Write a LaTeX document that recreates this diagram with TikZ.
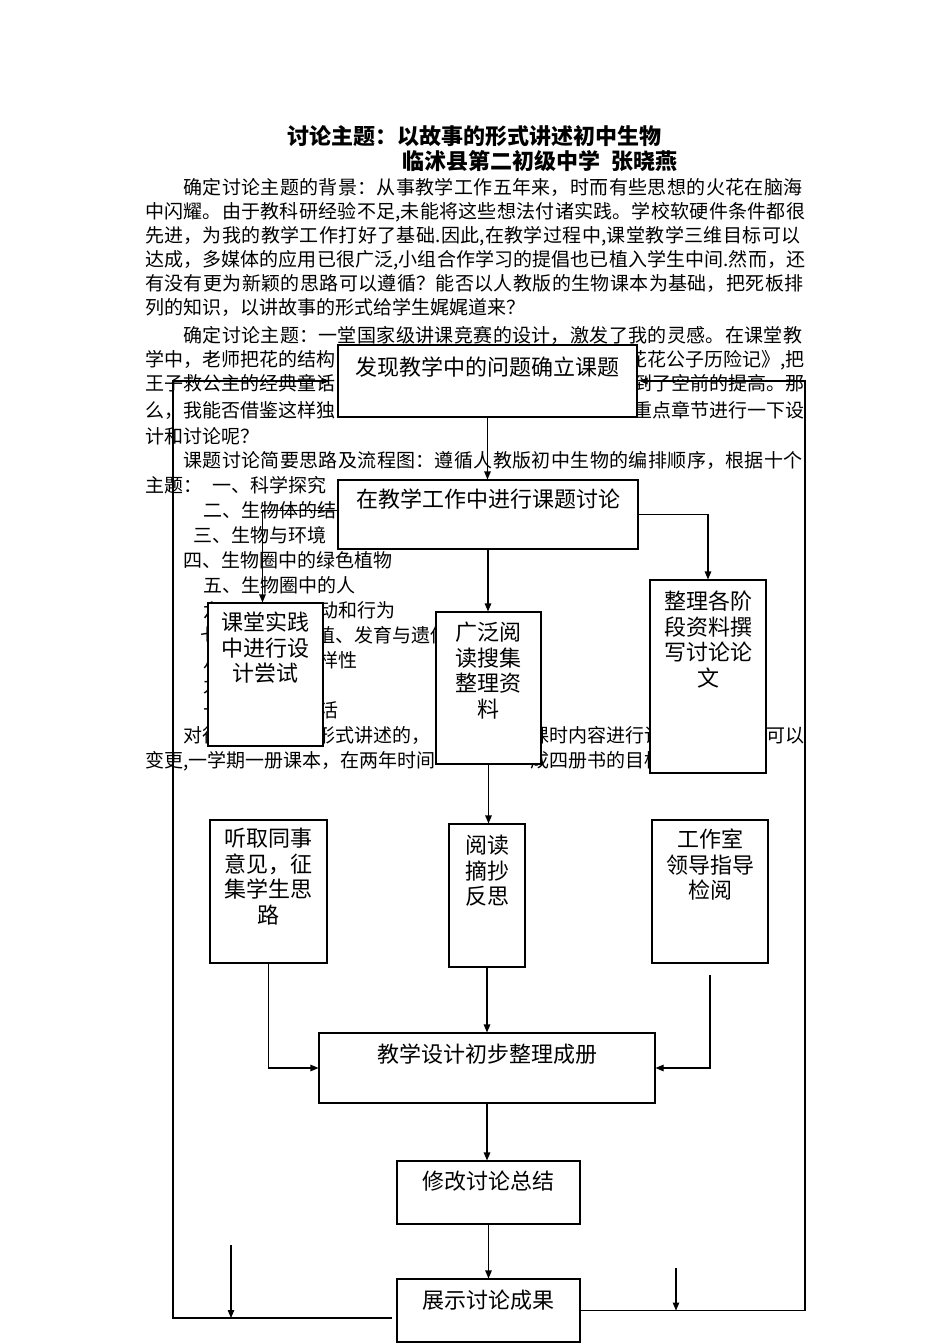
\documentclass[tikz,border=0pt]{standalone}
\usepackage{fontspec}
\setmainfont{Noto Sans CJK SC}
\usetikzlibrary{arrows.meta}
\XeTeXlinebreaklocale "zh"
\XeTeXlinebreakskip=0.4pt plus 2pt minus 1.5pt
\tolerance=9999
\hbadness=10000
\hfuzz=30pt
\newcommand{\mystrut}{\rule{0pt}{20pt}}
\newcommand{\jl}[1]{\leftskip=0pt\rightskip=0pt\parfillskip=0pt\parindent=0pt\relax #1}
\tikzset{
  txt/.style={anchor=west, inner sep=0pt, font=\fontsize{19}{24}\selectfont, text height=16.7pt, text depth=2.3pt},
  txte/.style={txt, anchor=east},
  jline/.style={txt, text width=#1},
  ttl/.style={anchor=west, inner sep=0pt, font=\fontsize{22}{26}\selectfont\bfseries, text height=19.4pt, text depth=2.6pt},
  box/.style={draw, fill=white, line width=1.1pt, inner sep=0pt},
  btxt/.style={anchor=north, inner sep=0pt, align=center, font=\fontsize{22}{25.5}\selectfont},
  ln/.style={line width=1.1pt},
  arr/.style={ln, -{Triangle[length=8pt,width=6.5pt]}},
}
\begin{document}
\begin{tikzpicture}[x=1pt,y=-1pt]
\fill[white] (0,0) rectangle (950,1344);
\useasboundingbox (0,0) rectangle (950,1344);

% ---------- titles ----------
\node[ttl] (t1) at (287,136) {讨论主题：以故事的形式讲述初中生物};
\node[ttl] (t2) at (402,161) {临沭县第二初级中学\hspace{11pt}张晓燕};

% ---------- body text ----------
\node[jline=622] (p1) at (183,187) {\jl{确定讨论主题的背景：从事教学工作五年来，时而有些思想的火花在脑海}};
\node[jline=660] (p2) at (145,211) {\jl{中闪耀。由于教科研经验不足,未能将这些想法付诸实践。学校软硬件条件都很}};
\node[jline=660] (p3) at (145,235) {\jl{先进，为我的教学工作打好了基础.因此,在教学过程中,课堂教学三维目标可以}};
\node[jline=660] (p4) at (145,259) {\jl{达成，多媒体的应用已很广泛,小组合作学习的提倡也已植入学生中间.然而，还}};
\node[jline=660] (p5) at (145,283) {\jl{有没有更为新颖的思路可以遵循？能否以人教版的生物课本为基础，把死板排}};
\node[txt] (p6) at (145,307) {列的知识，以讲故事的形式给学生娓娓道来？};
\node[jline=622] (p7) at (183,335) {\jl{确定讨论主题：一堂国家级讲课竞赛的设计，激发了我的灵感。在课堂教}};
\node[txt] (p8a) at (145,359) {学中，老师把花的结构};
\node[txte] (p8b) at (805,359) {花花公子历险记》,把};
\node[txt] (p9a) at (145,383) {王子救公主的经典童话};
\node[txte] (p9b) at (805,383) {到了空前的提高。那};
\node[txt] (p10a) at (145,410) {么，我能否借鉴这样独};
\node[txte] (p10b) at (805,410) {重点章节进行一下设};
\node[txt] (p11) at (145,436) {计和讨论呢？};
\node[jline=622] (p12) at (183,460) {\jl{课题讨论简要思路及流程图：遵循人教版初中生物的编排顺序，根据十个}};
\node[txt] (p13a) at (145,485) {主题：};
\node[txt] (p13b) at (212,485) {一、科学探究};
\node[txt] (p14) at (203,510) {二、生物体的结};
\node[txt] (p15) at (193,535) {三、生物与环境};
\node[txt] (p16) at (183,560) {四、生物圈中的绿色植物};
\node[txt] (p17) at (203,585) {五、生物圈中的人};
\node[txt] (p18a) at (203,610) {六};
\node[txt] (p18b) at (319,610) {动和行为};
\node[txt] (p19a) at (200,635) {七};
\node[txt] (p19b) at (316,635) {殖、发育与遗传};
\node[txt] (p20a) at (203,660) {八};
\node[txt] (p20b) at (319,660) {样性};
\node[txt] (p21) at (203,685) {九};
\node[txt] (p22a) at (203,710) {十};
\node[txt] (p22b) at (319,710) {活};
\node[txt] (p23a) at (183,735) {对待};
\node[txt] (p23b) at (316,735) {形式讲述的，};
\node[txt] (p23c) at (530,735) {课时内容进行讨};
\node[txte] (p23d) at (805,735) {可以};
\node[txt] (p24a) at (145,760) {变更,一学期一册课本，在两年时间};
\node[txt] (p24b) at (530,760) {成四册书的目标};

% ---------- boxes ----------
\node[box, minimum width=299, minimum height=72] (A) at (487.5,381) {};
\node[box, minimum width=300, minimum height=69] (B) at (488,514.5) {};
\node[box, minimum width=115, minimum height=143] (C) at (265.5,674.5) {};
\node[box, minimum width=105, minimum height=152] (D) at (488.5,688) {};
\node[box, minimum width=116, minimum height=193] (E) at (708,676.5) {};
\node[box, minimum width=117, minimum height=143] (F) at (268.5,891.5) {};
\node[box, minimum width=76, minimum height=143] (G) at (487,895.5) {};
\node[box, minimum width=116, minimum height=143] (H) at (710,891.5) {};
\node[box, minimum width=336, minimum height=70] (I) at (487,1068) {};
\node[box, minimum width=183, minimum height=63] (J) at (488.5,1192.5) {};
\node[box, minimum width=183, minimum height=63] (K) at (488.5,1310.5) {};

\node[btxt] (At) at (487.5,355.4) {\mystrut 发现教学中的问题确立课题};
\node[btxt] (Bt) at (488,487.4) {\mystrut 在教学工作中进行课题讨论};
\node[btxt] (Ct) at (265.5,610.4) {\mystrut 课堂实践\\中进行设\\计尝试};
\node[btxt] (Dt) at (488.5,620.4) {\mystrut 广泛阅\\读搜集\\整理资\\料};
\node[btxt] (Et) at (708,589.4) {\mystrut 整理各阶\\段资料撰\\写讨论论\\文};
\node[btxt] (Ft) at (268.5,826.4) {\mystrut 听取同事\\意见，征\\集学生思\\路};
\node[btxt] (Gt) at (487,833.4) {\mystrut 阅读\\摘抄\\反思};
\node[btxt] (Ht) at (710,827.4) {\mystrut 工作室\\领导指导\\检阅};
\node[btxt] (It) at (487,1042.4) {\mystrut 教学设计初步整理成册};
\node[btxt] (Jt) at (488.5,1169.4) {\mystrut 修改讨论总结};
\node[btxt] (Kt) at (488.5,1288.4) {\mystrut 展示讨论成果};

% ---------- connectors ----------
\coordinate (hs) at (710,975);
\coordinate (kl) at (392,1318);
\coordinate (lx) at (173,1318);
\coordinate (rx) at (805,1310.5);
\coordinate (s1a) at (231,1245);
\coordinate (s1b) at (231,1318);
\coordinate (s2a) at (676,1268);
\coordinate (s2b) at (676,1310.5);

\draw[arr] (A.south) -- (A.south |- B.north);
\draw[arr] (B.south) -- (B.south |- D.north);
\draw[arr] (B.east) -| (E.north);
\draw[arr] ([yshift=4pt]B.west) -| ([xshift=-3pt]C.north);
\draw[arr] (D.south) -- (D.south |- G.north);
\draw[arr] (F.south) |- (I.west);
\draw[arr] (G.south) -- (G.south |- I.north);
\draw[arr] (hs) |- (I.east);
\draw[arr] (I.south) -- (I.south |- J.north);
\draw[arr] (J.south) -- (J.south |- K.north);
\draw[arr, shorten >=2pt] (K.east) -- (rx) |- (A.east);
\draw[arr, shorten >=8pt] (kl) -- (lx) |- (A.west);
\draw[arr] (s1a) -- (s1b);
\draw[arr] (s2a) -- (s2b);
\end{tikzpicture}
\end{document}
